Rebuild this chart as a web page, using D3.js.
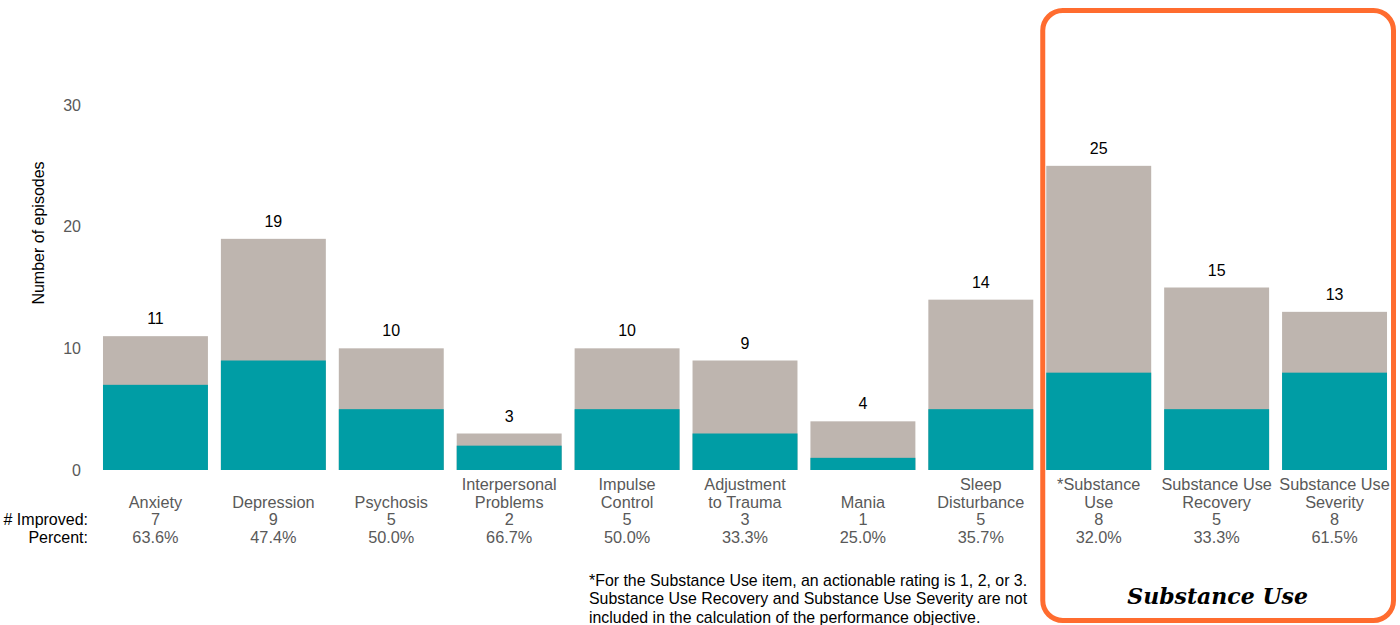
<!DOCTYPE html>
<html><head><meta charset="utf-8">
<script src="https://cdn.jsdelivr.net/npm/d3@7"></script>
<style>
html,body{margin:0;padding:0;background:#fff;}
svg{display:block;font-family:"Liberation Sans",Arial,sans-serif;}
</style></head>
<body><svg id="chart" width="1400" height="625"></svg>
<script>
const categories = [["Anxiety"],["Depression"],["Psychosis"],["Interpersonal","Problems"],["Impulse","Control"],["Adjustment","to Trauma"],["Mania"],["Sleep","Disturbance"],["*Substance","Use"],["Substance Use","Recovery"],["Substance Use","Severity"]];
const totals = [11,19,10,3,10,9,4,14,25,15,13];
const improved = [7,9,5,2,5,3,1,5,8,5,8];
const percents = ["63.6%","47.4%","50.0%","66.7%","50.0%","33.3%","25.0%","35.7%","32.0%","33.3%","61.5%"];
const yTicks = [0,10,20,30];
const footnote = ["*For the Substance Use item, an actionable rating is 1, 2, or 3.","Substance Use Recovery and Substance Use Severity are not","included in the calculation of the performance objective."];

const svg = d3.select("#chart");
const idx = d3.range(categories.length);
const x = d3.scaleBand().domain(idx).range([96.5,1393.5]).paddingInner(0.11).paddingOuter(0.055);
const y = d3.scaleLinear().domain([0,30]).range([470,105]);

// highlight box
const hb0 = x(8), hb1 = x(10)+x.bandwidth();
svg.append("rect").attr("x",hb0-3.5).attr("y",10.5).attr("width",hb1-hb0+10).attr("height",610)
  .attr("rx",20).attr("ry",20).attr("fill","none").attr("stroke","#FF6C2F").attr("stroke-width",5);

// y axis labels
const yAxis = d3.axisLeft(y).tickValues(yTicks).tickSize(0).tickPadding(0);
const yg = svg.append("g").attr("transform","translate(81,0)").call(yAxis);
yg.select(".domain").remove();
yg.selectAll("text").attr("font-size",16).attr("fill","#595959").attr("font-family","Liberation Sans, Arial, sans-serif");

svg.append("text").attr("transform","translate(44,233) rotate(-90)").attr("text-anchor","middle")
  .attr("font-size",16).attr("fill","#000").text("Number of episodes");

// bars
const g = svg.append("g");
g.selectAll(".tot").data(idx).join("rect").attr("class","tot")
  .attr("x",i=>x(i)).attr("width",x.bandwidth()).attr("y",i=>y(totals[i])).attr("height",i=>y(0)-y(totals[i]))
  .attr("fill","#BEB5AF");
g.selectAll(".imp").data(idx).join("rect").attr("class","imp")
  .attr("x",i=>x(i)).attr("width",x.bandwidth()).attr("y",i=>y(improved[i])).attr("height",i=>y(0)-y(improved[i]))
  .attr("fill","#009DA5");
g.selectAll(".val").data(idx).join("text").attr("class","val")
  .attr("x",i=>x(i)+x.bandwidth()/2).attr("y",i=>y(totals[i])-12).attr("text-anchor","middle")
  .attr("font-size",16).attr("fill","#000").text(i=>totals[i]);

// category labels and stats
const lab = svg.append("g").attr("font-size",16.3).attr("fill","#595959").attr("text-anchor","middle");
idx.forEach(i=>{
  const cx = x(i)+x.bandwidth()/2;
  const lines = categories[i];
  lines.forEach((t,k)=>{
    lab.append("text").attr("x",cx).attr("y",507.5-(lines.length-1-k)*18).text(t);
  });
  lab.append("text").attr("x",cx).attr("y",525).text(improved[i]);
  lab.append("text").attr("x",cx).attr("y",543).text(percents[i]);
});
svg.append("text").attr("x",88).attr("y",525).attr("text-anchor","end").attr("font-size",16).attr("fill","#000").text("# Improved:");
svg.append("text").attr("x",88).attr("y",543).attr("text-anchor","end").attr("font-size",16).attr("fill","#000").text("Percent:");

// footnote
footnote.forEach((t,k)=>{
  svg.append("text").attr("x",589).attr("y",585.5+k*18.7).attr("font-size",15.9).attr("fill","#000").text(t);
});

// box title
svg.append("text").attr("x",(hb0+hb1)/2+1).attr("y",604).attr("text-anchor","middle")
  .attr("font-family","'DejaVu Serif', Georgia, serif").attr("font-weight","bold").attr("font-style","italic")
  .attr("font-size",22).attr("fill","#000").text("Substance Use");
</script></body></html>
